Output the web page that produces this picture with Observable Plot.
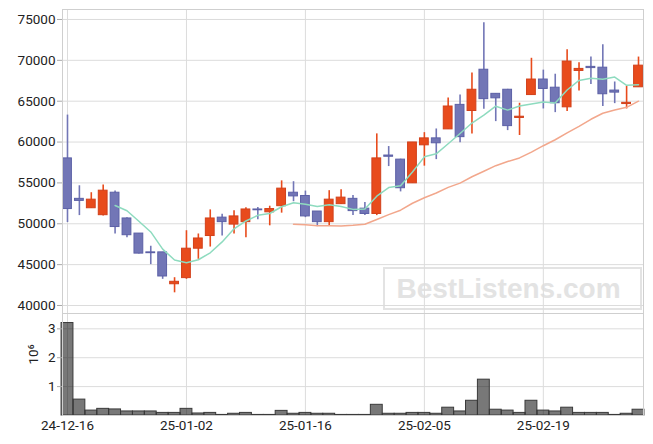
<!DOCTYPE html>
<html>
<head>
<meta charset="utf-8">
<script src="https://cdn.jsdelivr.net/npm/d3@7"></script>
<script src="https://cdn.jsdelivr.net/npm/@observablehq/plot@0.6"></script>
<style>
  html, body { margin: 0; padding: 0; background: #fff; }
  #wrap { position: relative; width: 653px; height: 444px; overflow: hidden; }
  #wm { position: absolute; left: 383px; top: 267px; width: 259px; height: 43px; box-sizing: border-box;
        border: 2.5px solid #e3e3e3; font: bold 28px "Liberation Sans", Arial, sans-serif; color: #e3e3e3;
        display: flex; align-items: center; justify-content: center; padding-right: 8px; padding-top: 1px; z-index: 0; }
  #charts { position: absolute; left: 0; top: 0; z-index: 1; }
  #charts svg { display: block; background: transparent; }
</style>
</head>
<body>
<div id="wrap">
  <div id="wm">BestListens.com</div>
  <div id="charts"></div>
</div>
<script>
const dates = [
  "24-12-16","24-12-17","24-12-18","24-12-19","24-12-20","24-12-23","24-12-24","24-12-26","24-12-27","24-12-30",
  "25-01-02","25-01-03","25-01-06","25-01-07","25-01-08","25-01-09","25-01-10","25-01-13","25-01-14","25-01-15",
  "25-01-16","25-01-17","25-01-20","25-01-21","25-01-22","25-01-23","25-01-24","25-01-31","25-02-03","25-02-04",
  "25-02-05","25-02-06","25-02-07","25-02-10","25-02-11","25-02-12","25-02-13","25-02-14","25-02-17","25-02-18",
  "25-02-19","25-02-20","25-02-21","25-02-24","25-02-25","25-02-26","25-02-27","25-02-28","25-03-04"
];
const opens = [58000,53050,51900,51050,53800,50650,48800,46500,46500,42600,
  43350,46950,48500,50750,49900,50200,51750,51400,52150,53800,
  53400,51500,50200,52400,53050,51850,51200,58350,57850,54950,
  59600,60450,61550,64550,63800,68850,65900,66400,62950,65750,
  67650,66650,64250,68700,69200,69100,66300,64650,66700];
const closes = [51800,52800,52950,54050,49600,48600,46350,46400,43550,42900,
  46950,48200,50650,50200,50900,51750,51650,51800,54300,53350,
  50900,50200,52950,53200,51550,51200,58000,58200,54350,59950,
  60450,59850,64350,60600,66400,65250,65350,61950,63100,67650,
  66500,64750,69850,68950,69050,65850,66050,64800,69350];
const highs = [63300,54650,53800,54750,54000,50750,48800,47250,46500,43400,
  49150,48750,51700,51150,51600,51950,52000,52150,55250,55150,
  54000,51500,54050,54150,53450,52600,61000,59450,57900,59950,
  61150,61600,65400,65750,68450,74600,65900,66450,64750,70250,
  68800,68300,71300,69700,70400,71900,67350,66800,70400];
const lows = [50150,51000,51900,50950,48750,48300,46300,45000,43200,41550,
  43200,45650,47150,48500,48750,48300,50500,49750,51300,52700,
  50750,49650,49700,52350,51000,51000,51000,57000,53900,54950,
  57050,57850,61550,59900,61000,64000,62500,61400,60800,65750,
  64050,63600,63750,66250,67050,64350,64700,64050,66700];
const volumes = [3200000,550000,170000,230000,210000,140000,140000,140000,90000,90000,
  230000,70000,90000,20000,60000,90000,20000,20000,160000,60000,
  90000,60000,60000,20000,20000,20000,370000,60000,60000,90000,
  90000,60000,270000,140000,510000,1240000,200000,170000,90000,510000,
  170000,140000,270000,90000,90000,90000,20000,60000,200000];
const priceTicks = [40000,45000,50000,55000,60000,65000,70000,75000];
const volumeTicks = [1000000,2000000,3000000];
const dateTickIdx = [0,10,20,30,40];

const rows = dates.map((d, i) => ({i, date: d, open: opens[i], close: closes[i], high: highs[i], low: lows[i], vol: volumes[i], up: closes[i] >= opens[i]}));

const RED = "#e84b1c", RED_S = "#d2401a";
const BLUE = "#7276b6", BLUE_S = "#5c60a6";
const xDomain = [-0.42, dates.length - 1 + 0.42];
const font = {fontFamily: "Roboto, sans-serif", fontSize: "13.5px", color: "#222", background: "transparent", overflow: "visible"};

const price = Plot.plot({
  width: 653, height: 313, marginTop: 9, marginBottom: 0, marginLeft: 62, marginRight: 10,
  style: font,
  x: {type: "linear", domain: xDomain, axis: null},
  y: {domain: [39020, 76220], axis: null},
  marks: [
    Plot.gridX(dateTickIdx, {stroke: "#dcdcdc", strokeOpacity: 1}),
    Plot.gridY(priceTicks, {stroke: "#dcdcdc", strokeOpacity: 1}),
    Plot.axisY(priceTicks, {tickSize: 5, tickPadding: 2, tickFormat: d => String(d), label: null, stroke: "#aaa", color: "#222"}),
    Plot.ruleX(rows.filter(d => d.up), {x: "i", y1: "low", y2: "high", stroke: RED, strokeWidth: 1.6}),
    Plot.ruleX(rows.filter(d => !d.up), {x: "i", y1: "low", y2: "high", stroke: BLUE, strokeWidth: 1.6}),
    Plot.rectY(rows.filter(d => d.up), {x1: d => d.i - 0.37, x2: d => d.i + 0.37, y1: "open", y2: "close", fill: RED, stroke: RED_S, strokeWidth: 1}),
    Plot.rectY(rows.filter(d => !d.up), {x1: d => d.i - 0.37, x2: d => d.i + 0.37, y1: "open", y2: "close", fill: BLUE, stroke: BLUE_S, strokeWidth: 1}),
    Plot.lineY(rows, Plot.windowY({k: 20, anchor: "end", strict: true}, {x: "i", y: "close", stroke: "#f2a78c", strokeWidth: 1.5})),
    Plot.lineY(rows, Plot.windowY({k: 5, anchor: "end", strict: true}, {x: "i", y: "close", stroke: "#8edbbf", strokeWidth: 1.5})),
    Plot.frame({stroke: "#cfcfcf"})
  ]
});

const volume = Plot.plot({
  width: 653, height: 131, marginTop: 0, marginBottom: 29, marginLeft: 62, marginRight: 10,
  style: font,
  x: {type: "linear", domain: xDomain, axis: null},
  y: {domain: [0, 3530000], axis: null},
  marks: [
    Plot.gridX(dateTickIdx, {stroke: "#dcdcdc", strokeOpacity: 1}),
    Plot.gridY(volumeTicks, {stroke: "#dcdcdc", strokeOpacity: 1}),
    Plot.rectY(rows, {x1: d => d.i - 0.5, x2: d => d.i + 0.5, y: "vol", fill: "black", fillOpacity: 0.53, stroke: "#3a3a3a", strokeWidth: 1}),
    Plot.axisY(volumeTicks, {tickSize: 5, tickPadding: 2, tickFormat: d => String(d / 1e6), label: null, stroke: "#aaa", color: "#222"}),
    Plot.axisX(dateTickIdx, {tickSize: 0, tickPadding: 5, tickFormat: i => dates[i], label: null, color: "#222"}),
    Plot.text(["10⁶"], {frameAnchor: "left", dx: -29, rotate: -90, fontSize: 13.5, fill: "#222"}),
    Plot.frame({stroke: "#cfcfcf"})
  ]
});

document.getElementById("charts").append(price, volume);
</script>
</body>
</html>
